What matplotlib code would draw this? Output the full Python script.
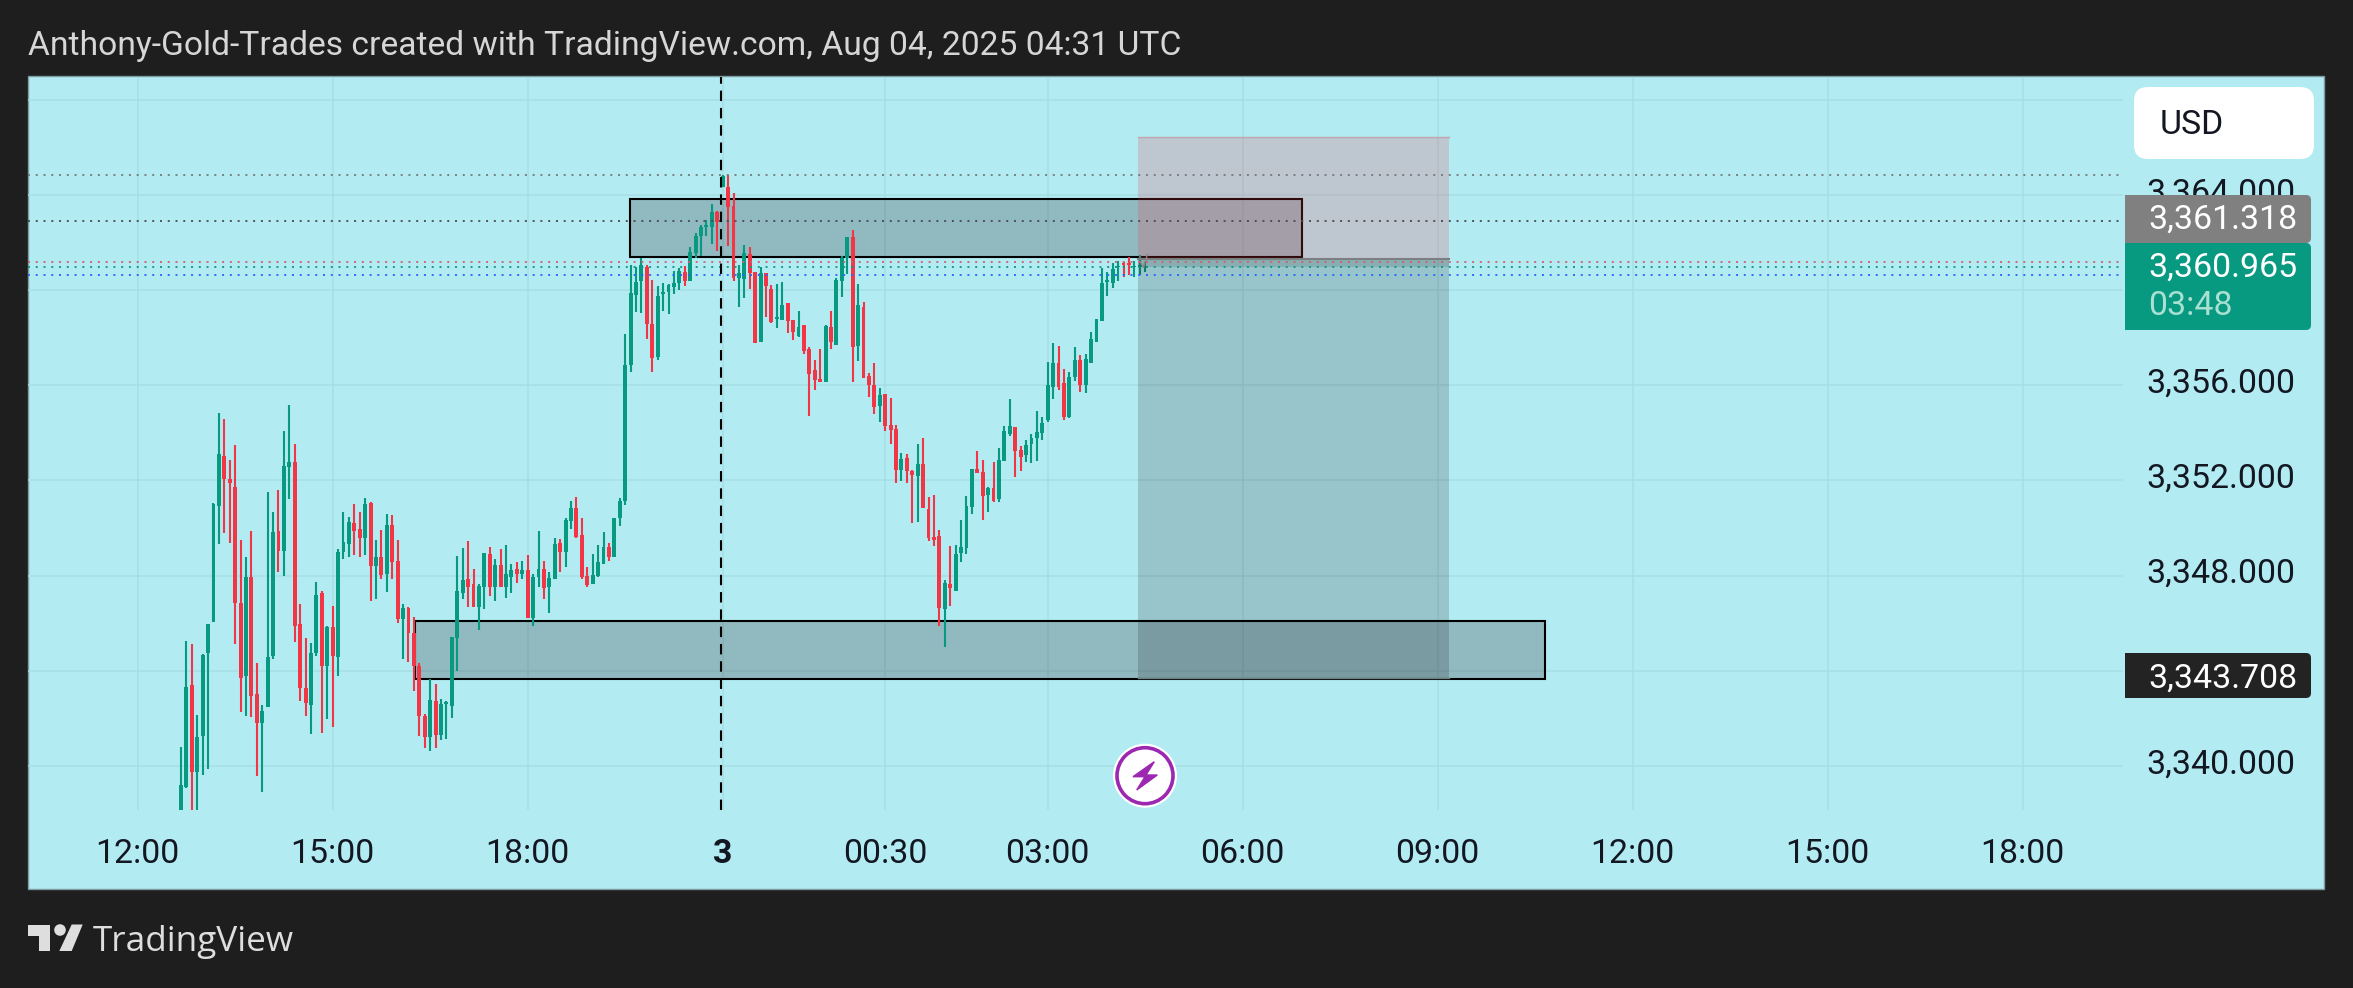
import matplotlib
matplotlib.use('Agg')
import matplotlib.pyplot as plt
from matplotlib.patches import Rectangle, FancyBboxPatch, Circle, Polygon
from matplotlib.transforms import ScaledTranslation

plt.rcParams['font.family'] = ['Roboto', 'DejaVu Sans']

W, H = 2353, 988
DARK = '#1e1e1e'
CHART_BG = '#b2ebf2'
GRID = '#a6dee5'
UP = '#089981'
DOWN = '#f23645'
TEXT = '#131722'
LABEL_SIZE = 24.4

# 5 min candles, 1 bar = one step on x
directions = ('GGRGGGGGRR' 'RRGRRGGGRG' 'GRRRGGRGRG' 'GGRRGRGRGR' 'RGRRRRGRGG'
              'GGGRRGGRGR' 'GGRGRGGRGG' 'RGGRRRGGGR' 'GGGGGGRRGG' 'GGGRGGGGGR'
              'GRRGGRRGRR' 'GGRRGRRRRG' 'RGGGRGRRRG' 'RRRGRRGRRR' 'RGRGGGGRRG'
              'RGGGRRGGGG' 'GGRRGGRGGG' 'GGGGRRGGG')

highs = [3340.81, 3345.26, 3345.12, 3342.15, 3344.70, 3345.96, 3351.04, 3354.84, 3354.57, 3352.85,
         3353.48, 3349.49, 3348.79, 3349.87, 3344.32, 3342.56, 3351.50, 3350.66, 3351.59, 3354.08,
         3355.17, 3353.52, 3346.80, 3345.37, 3345.15, 3347.72, 3347.35, 3345.88, 3346.72, 3349.11,
         3350.66, 3350.45, 3351.00, 3350.66, 3351.25, 3351.08, 3349.49, 3349.91, 3350.58, 3350.55,
         3349.49, 3346.80, 3346.66, 3346.27, 3344.32, 3342.18, 3343.65, 3343.44, 3342.80, 3342.74,
         3345.43, 3348.82, 3349.15, 3349.45, 3348.27, 3347.64, 3348.96, 3349.19, 3348.69, 3349.11,
         3349.28, 3348.48, 3348.56, 3348.61, 3348.86, 3348.06, 3349.87, 3348.61, 3348.14, 3349.57,
         3349.54, 3350.41, 3351.14, 3351.31, 3350.41, 3348.37, 3348.90, 3349.28, 3349.82, 3349.36,
         3350.41, 3351.27, 3358.15, 3361.05, 3360.98, 3361.33, 3361.05, 3360.42, 3360.17, 3360.28,
         3360.25, 3360.80, 3360.92, 3361.01, 3361.82, 3362.38, 3362.74, 3362.94, 3363.61, 3363.33,
         3364.83, 3364.83, 3364.06, 3361.05, 3361.88, 3361.79, 3360.77, 3360.98, 3360.71, 3360.22,
         3360.25, 3360.32, 3359.45, 3358.74, 3359.10, 3358.53, 3357.59, 3357.06, 3357.51, 3358.53,
         3359.10, 3360.49, 3361.43, 3362.21, 3362.52, 3360.24, 3359.48, 3356.53, 3356.92, 3355.87,
         3355.62, 3355.45, 3354.32, 3353.14, 3353.11, 3352.44, 3353.52, 3353.77, 3351.29, 3351.38,
         3349.92, 3347.82, 3349.25, 3349.28, 3350.34, 3351.35, 3352.47, 3353.22, 3352.86, 3351.71,
         3352.78, 3353.35, 3354.29, 3355.41, 3354.23, 3353.45, 3353.70, 3353.94, 3354.92, 3354.65,
         3356.96, 3357.76, 3357.65, 3356.68, 3356.54, 3357.61, 3357.27, 3357.31, 3358.24, 3358.78,
         3360.92, 3360.76, 3361.12, 3361.22, 3361.18, 3361.39, 3361.20, 3361.47, 3361.18]

body_tops = [3339.21, 3343.30, 3343.41, 3341.23, 3344.67, 3345.96, 3351.01, 3353.10, 3353.03, 3352.06,
             3351.73, 3346.84, 3347.95, 3347.95, 3343.02, 3342.32, 3344.59, 3349.82, 3349.87, 3352.60,
             3352.76, 3352.76, 3345.96, 3343.27, 3344.74, 3347.19, 3347.25, 3345.85, 3345.85, 3349.00,
             3349.40, 3350.24, 3350.20, 3349.95, 3351.00, 3351.06, 3348.79, 3348.79, 3350.13, 3350.13,
             3348.62, 3346.63, 3346.62, 3345.60, 3344.21, 3342.08, 3342.77, 3342.71, 3342.60, 3342.68,
             3345.40, 3347.36, 3347.82, 3347.85, 3347.64, 3347.58, 3348.93, 3348.90, 3348.44, 3348.44,
             3348.06, 3348.24, 3348.27, 3348.24, 3348.23, 3347.95, 3348.26, 3348.27, 3347.88, 3349.32,
             3349.36, 3350.34, 3350.83, 3350.83, 3349.71, 3347.99, 3348.03, 3348.59, 3349.21, 3349.21,
             3350.41, 3351.14, 3356.85, 3359.86, 3360.32, 3361.05, 3360.98, 3358.57, 3359.75, 3359.92,
             3360.21, 3360.28, 3360.78, 3360.76, 3361.61, 3362.27, 3362.63, 3362.74, 3363.28, 3363.29,
             3364.79, 3364.31, 3363.53, 3360.70, 3361.54, 3361.51, 3360.77, 3360.73, 3360.71, 3360.06,
             3358.85, 3359.37, 3359.44, 3358.74, 3358.43, 3358.53, 3357.54, 3356.64, 3356.25, 3358.49,
             3358.46, 3360.42, 3361.34, 3362.21, 3362.21, 3359.36, 3359.27, 3356.39, 3356.01, 3355.59,
             3355.62, 3354.32, 3354.16, 3352.90, 3352.93, 3352.41, 3352.69, 3352.69, 3350.80, 3349.63,
             3349.67, 3347.70, 3347.65, 3348.91, 3349.19, 3350.93, 3352.47, 3352.47, 3352.36, 3351.66,
             3351.66, 3352.85, 3354.08, 3354.29, 3354.23, 3353.28, 3353.48, 3353.77, 3354.02, 3354.40,
             3356.00, 3356.92, 3356.92, 3356.08, 3356.36, 3357.06, 3357.06, 3357.09, 3357.93, 3358.77,
             3360.28, 3360.42, 3360.87, 3361.01, 3361.15, 3361.15, 3361.02, 3361.04, 3361.02]

body_bottoms = [3337.90, 3339.13, 3339.73, 3339.73, 3341.24, 3344.73, 3346.03, 3350.94, 3352.06, 3351.87,
                3346.83, 3343.68, 3343.79, 3342.92, 3341.79, 3341.79, 3342.46, 3344.64, 3349.04, 3349.04,
                3352.57, 3345.90, 3343.26, 3342.66, 3342.57, 3344.73, 3344.22, 3344.22, 3344.60, 3344.56,
                3348.98, 3349.31, 3349.88, 3349.60, 3349.60, 3348.42, 3348.42, 3348.03, 3348.05, 3348.59,
                3346.18, 3346.18, 3345.57, 3344.21, 3342.12, 3341.20, 3341.20, 3341.31, 3341.31, 3342.60,
                3342.50, 3345.37, 3347.25, 3347.53, 3346.70, 3346.70, 3347.54, 3347.54, 3347.54, 3347.54,
                3347.53, 3347.96, 3348.06, 3348.05, 3346.20, 3346.20, 3347.92, 3347.46, 3347.50, 3347.84,
                3349.01, 3349.01, 3350.30, 3349.63, 3347.95, 3347.61, 3347.63, 3347.99, 3348.48, 3348.80,
                3348.80, 3350.40, 3351.15, 3356.85, 3359.79, 3360.39, 3358.57, 3357.14, 3357.17, 3359.83,
                3359.90, 3360.11, 3360.31, 3360.38, 3360.39, 3361.54, 3362.27, 3362.66, 3362.66, 3362.86,
                3364.34, 3363.50, 3360.50, 3360.49, 3360.46, 3360.70, 3357.79, 3357.83, 3360.17, 3358.66,
                3358.80, 3358.74, 3358.71, 3358.24, 3358.08, 3357.42, 3356.47, 3356.22, 3356.15, 3356.15,
                3357.82, 3357.69, 3360.39, 3361.33, 3357.62, 3357.65, 3356.30, 3356.00, 3355.09, 3355.13,
                3354.29, 3354.12, 3352.44, 3352.44, 3352.40, 3352.24, 3352.19, 3350.83, 3349.57, 3349.50,
                3346.62, 3346.59, 3347.46, 3347.37, 3348.93, 3349.15, 3350.89, 3352.30, 3351.35, 3351.39,
                3351.12, 3351.21, 3352.82, 3353.95, 3353.25, 3353.00, 3353.07, 3353.53, 3353.78, 3354.01,
                3354.54, 3355.93, 3355.91, 3354.65, 3354.68, 3356.33, 3356.00, 3356.01, 3356.95, 3357.82,
                3358.71, 3360.34, 3360.31, 3360.95, 3361.06, 3361.04, 3360.98, 3360.98, 3360.98]

lows = [3337.50, 3339.06, 3337.80, 3337.90, 3339.62, 3339.86, 3346.03, 3349.31, 3349.81, 3349.39,
        3345.11, 3342.25, 3342.12, 3342.04, 3339.59, 3338.89, 3342.46, 3344.48, 3348.17, 3348.00,
        3351.20, 3345.23, 3342.71, 3342.12, 3341.33, 3344.60, 3341.37, 3341.96, 3341.62, 3343.80,
        3348.70, 3348.76, 3348.87, 3348.80, 3348.87, 3346.95, 3347.00, 3347.86, 3347.29, 3347.86,
        3345.99, 3344.48, 3344.35, 3343.16, 3341.27, 3340.74, 3340.61, 3340.74, 3341.09, 3341.12,
        3342.00, 3344.00, 3347.00, 3346.66, 3346.69, 3345.71, 3346.58, 3347.16, 3346.95, 3347.54,
        3347.04, 3347.25, 3347.67, 3347.84, 3346.20, 3345.90, 3347.50, 3347.00, 3346.41, 3347.84,
        3348.17, 3348.37, 3349.94, 3349.60, 3347.86, 3347.53, 3347.63, 3347.92, 3348.48, 3348.62,
        3348.80, 3350.10, 3350.98, 3356.57, 3359.08, 3359.05, 3357.96, 3356.57, 3357.06, 3359.13,
        3359.01, 3359.83, 3360.00, 3360.17, 3360.39, 3361.33, 3361.43, 3362.27, 3361.93, 3361.64,
        3364.34, 3361.85, 3360.39, 3359.30, 3359.66, 3360.06, 3357.79, 3357.83, 3358.88, 3358.61,
        3358.42, 3358.74, 3358.21, 3357.90, 3358.03, 3357.31, 3354.71, 3355.80, 3356.15, 3356.15,
        3357.52, 3357.69, 3359.72, 3360.67, 3356.15, 3357.02, 3356.30, 3355.52, 3354.79, 3354.46,
        3354.09, 3353.55, 3351.91, 3351.98, 3351.89, 3350.21, 3350.27, 3350.83, 3349.47, 3349.26,
        3345.89, 3345.02, 3346.73, 3347.37, 3348.55, 3348.91, 3350.59, 3352.30, 3350.34, 3350.68,
        3351.11, 3351.11, 3352.82, 3353.87, 3352.15, 3352.40, 3352.78, 3352.73, 3352.82, 3353.70,
        3354.47, 3355.42, 3355.80, 3354.54, 3354.62, 3356.18, 3355.70, 3355.67, 3356.95, 3357.82,
        3358.71, 3359.75, 3360.08, 3360.38, 3360.55, 3360.64, 3360.55, 3360.62, 3360.76]

# axis
grid_prices = [3340, 3344, 3348, 3352, 3356, 3360, 3364, 3368]
price_labels = ['3,340.000', '', '3,348.000', '3,352.000', '3,356.000', '', '3,364.000', '']
time_ticks = [-8, 28, 64, 100, 130, 160, 196, 232, 268, 304, 340]
time_labels = ['12:00', '15:00', '18:00', '3', '00:30', '03:00', '06:00', '09:00', '12:00', '15:00', '18:00']

# horizontal price lines
line_prices = [3364.83, 3362.90, 3361.18, 3360.965, 3360.63]
line_colors = ['#787878', '#4a4a4a', '#d0606c', UP, '#2962ff']

# drawings
upper_zone = [82.9, 206.9, 3361.39, 3363.84]
lower_zone = [43.2, 251.8, 3343.66, 3346.09]
position_x = [176.7, 234.1]
target_price = 3366.42
entry_price = 3361.318
stop_price = 3343.708
current_price = 3360.965

fig = plt.figure(figsize=(W / 100, H / 100), dpi=100, facecolor=DARK)


def px_axes(zorder):
    a = fig.add_axes([0, 0, 1, 1], zorder=zorder)
    a.set_xlim(0, W)
    a.set_ylim(H, 0)
    a.axis('off')
    return a


back = px_axes(0)
back.add_patch(Rectangle((28, 76.5), 2296, 812, facecolor=CHART_BG, edgecolor='#7d9a9e', linewidth=1))

ax = fig.add_axes([28 / W, (H - 810) / H, (2123 - 28) / W, (810 - 77) / H], zorder=1)
ax.patch.set_alpha(0)
ax.set_xlim(-28.24, 358.5)
ax.set_ylim(3338.15, 3368.95)
for s in ax.spines.values():
    s.set_visible(False)
ax.set_axisbelow(True)
ax.grid(True, color=GRID, linewidth=1.1)
ax.set_xticks(time_ticks, time_labels)
ax.set_yticks(grid_prices, price_labels)
ax.yaxis.tick_right()
ax.tick_params(axis='both', length=0, labelsize=LABEL_SIZE, labelcolor=TEXT)
ax.tick_params(axis='x', pad=20)
ax.tick_params(axis='y', pad=17)
ax.get_xticklabels()[3].set_fontweight('bold')
# price labels sit a little above their grid line
lift = ScaledTranslation(0, 5 / 100, fig.dpi_scale_trans)
for lbl in ax.get_yticklabels():
    lbl.set_transform(lbl.get_transform() + lift)

# zones under the candles
for x0, x1, y0, y1 in [upper_zone, lower_zone]:
    ax.add_patch(Rectangle((x0, y0), x1 - x0, y1 - y0, facecolor='#1a0a10', alpha=0.22, linewidth=0, zorder=2))
    ax.add_patch(Rectangle((x0, y0), x1 - x0, y1 - y0, fill=False, edgecolor='black', linewidth=1.5, zorder=2.1))

# candles
bars = range(len(highs))
colors = [UP if d == 'G' else DOWN for d in directions]
ax.vlines(bars, lows, highs, colors=colors, linewidth=1.5, zorder=3)
ax.bar(bars, [t - b for t, b in zip(body_tops, body_bottoms)], bottom=body_bottoms,
       width=0.72, color=colors, linewidth=0, zorder=3.1)

# short position box
x0, x1 = position_x
ax.add_patch(Rectangle((x0, entry_price), x1 - x0, target_price - entry_price,
                       facecolor=DOWN, alpha=0.2, linewidth=0, zorder=3.5))
ax.add_patch(Rectangle((x0, stop_price), x1 - x0, entry_price - stop_price,
                       facecolor='#0a0000', alpha=0.16, linewidth=0, zorder=3.5))
ax.add_patch(Rectangle((x0, current_price), x1 - x0, entry_price - current_price,
                       facecolor='#505050', alpha=0.2, linewidth=0, zorder=3.6))
ax.plot([x0, x1], [entry_price, entry_price], color='#7a7f80', linewidth=1.5, zorder=3.7)
ax.plot([x0, x1], [stop_price, stop_price], color='#6d8083', linewidth=1, zorder=3.7)
ax.plot([x0, x1], [target_price, target_price], color='#c0a4ae', linewidth=1, zorder=3.7)
ax.plot([177, 177.7, 178.4], [3361.2, 3360.95, 3361.5], color='#888888', linewidth=1, zorder=3.7)

for price, col in zip(line_prices, line_colors):
    ax.axhline(price, color=col, linewidth=1.3, linestyle=(0, (1.1, 3.2)), zorder=4)
ax.axvline(100 - 0.35, color='black', linewidth=1.5, linestyle=(0, (5, 3.3)), zorder=4)

# everything around the chart, in pixels
top = px_axes(2)
top.text(28, 43, 'Anthony-Gold-Trades created with TradingView.com, Aug 04, 2025 04:31 UTC',
         color='#d6d6d6', fontsize=24.2, va='center_baseline')

top.add_patch(FancyBboxPatch((2139, 92), 170, 62, boxstyle='round,pad=5,rounding_size=14',
                             facecolor='white', edgecolor='none'))
top.text(2160, 122, 'USD', color=TEXT, fontsize=LABEL_SIZE, va='center_baseline')


def price_box(y0, y1, col):
    top.add_patch(FancyBboxPatch((2127, y0 + 2), 182, y1 - y0 - 4, boxstyle='round,pad=2,rounding_size=5',
                                 facecolor=col, edgecolor='none'))
    top.add_patch(Rectangle((2125, y0), 60, y1 - y0, facecolor=col, edgecolor='none'))


price_box(195, 243, '#808080')
price_box(243, 330, UP)
price_box(653, 698, '#232323')
top.text(2148, 216, '3,361.318', color='white', fontsize=LABEL_SIZE, va='center_baseline')
top.text(2148, 264, '3,360.965', color='white', fontsize=LABEL_SIZE, va='center_baseline')
top.text(2148, 302, '03:48', color='#a8e0d2', fontsize=LABEL_SIZE, va='center_baseline')
top.text(2148, 675, '3,343.708', color='white', fontsize=LABEL_SIZE, va='center_baseline')

# flash icon
cx, cy = 1145, 775.7
top.add_patch(Circle((cx, cy), 32, facecolor='white', edgecolor='none'))
top.add_patch(Circle((cx, cy), 28, facecolor='white', edgecolor='#9c27b0', linewidth=2.6))
top.add_patch(Polygon([(cx + 9.3, cy - 14), (cx - 12, cy + 1), (cx, cy + 1), (cx - 8.3, cy + 14.3),
                       (cx + 12.3, cy - 0.7), (cx + 1, cy - 0.7)], closed=True, facecolor='#9c27b0',
                      edgecolor='#9c27b0', linewidth=1))

# logo
LOGO = '#dedede'
top.add_patch(Polygon([(28, 924.5), (50, 924.5), (50, 951), (39, 951), (39, 935.5), (28, 935.5)], facecolor=LOGO))
top.add_patch(Circle((60, 930), 5.8, facecolor=LOGO))
top.add_patch(Polygon([(71.7, 924.5), (82.7, 924.5), (71.7, 951), (59.3, 951)], facecolor=LOGO))
top.text(93, 938, 'TradingView', color='#dedede', fontsize=25.3, va='center_baseline', family=['Open Sans', 'DejaVu Sans'])

fig.savefig('out.png', dpi=100, facecolor=DARK)
